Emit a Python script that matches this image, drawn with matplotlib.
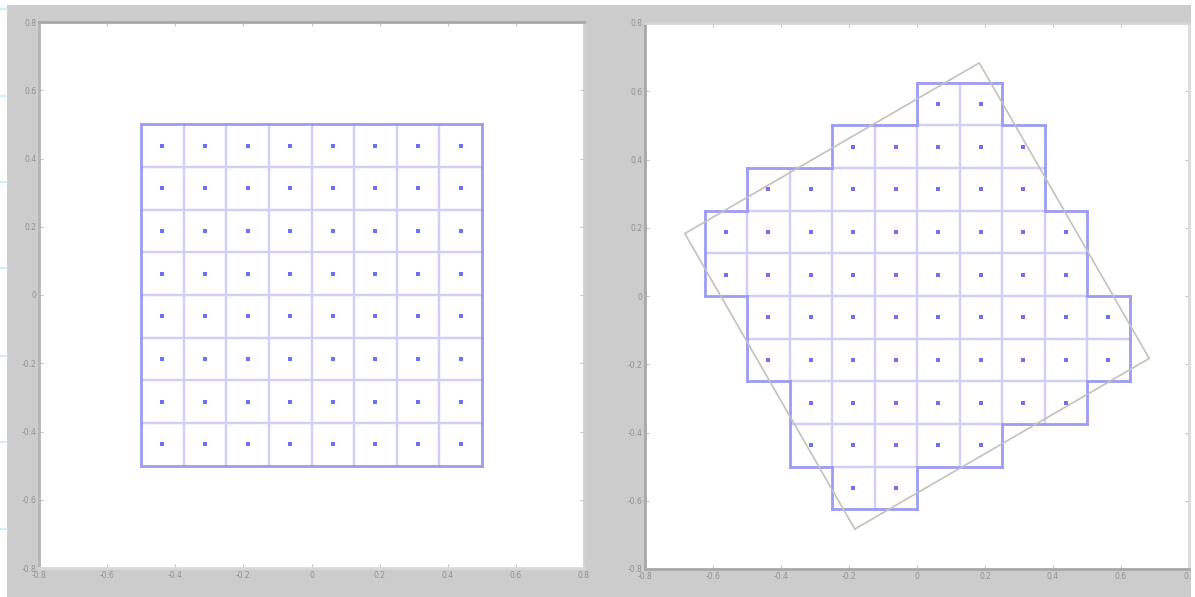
import numpy as np
import matplotlib
matplotlib.use("Agg")
import matplotlib.pyplot as plt
from matplotlib.lines import Line2D

# ---------------- data ----------------
cell_size = 0.125
# left panel: 8x8 grid of cells (row index j, first and last column index i)
left_rows = [-4, -3, -2, -1, 0, 1, 2, 3]
left_col_start = [-4, -4, -4, -4, -4, -4, -4, -4]
left_col_end = [3, 3, 3, 3, 3, 3, 3, 3]
# right panel: cells whose centre lies inside the rotated square
right_rows = [-5, -4, -3, -2, -1, 0, 1, 2, 3, 4]
right_col_start = [-2, -3, -3, -4, -4, -5, -5, -4, -2, 0]
right_col_end = [-1, 1, 3, 4, 4, 3, 3, 2, 2, 1]
# rotated outline square
square_side = 1.0
square_angle_deg = 30.0

tick_values = [-0.8, -0.6, -0.4, -0.2, 0, 0.2, 0.4, 0.6, 0.8]
tick_labels = ["-0.8", "-0.6", "-0.4", "-0.2", "0", "0.2", "0.4", "0.6", "0.8"]

# ---------------- style ----------------
FIG_BG = "#cccccc"
INNER = "#cfcffa"
BORDER = "#9c9cf6"
DOT = "#7070f0"
OUTLINE = "#c2c2ba"


def cells_from(rows, c0, c1):
    cells = set()
    for j, a, b in zip(rows, c0, c1):
        for i in range(a, b + 1):
            cells.add((i, j))
    return cells


def draw_cells(ax, cells):
    s = cell_size
    inner, border = [], []
    for (i, j) in cells:
        x0, y0 = i * s, j * s
        sides = [
            ((i, j - 1), [(x0, y0), (x0 + s, y0)]),
            ((i, j + 1), [(x0, y0 + s), (x0 + s, y0 + s)]),
            ((i - 1, j), [(x0, y0), (x0, y0 + s)]),
            ((i + 1, j), [(x0 + s, y0), (x0 + s, y0 + s)]),
        ]
        for nb, seg in sides:
            (border if nb not in cells else inner).append(seg)
    for seg in inner:
        (a, b) = seg
        ax.plot([a[0], b[0]], [a[1], b[1]], color=INNER, lw=1.6,
                solid_capstyle="butt", zorder=2)
    for seg in border:
        (a, b) = seg
        ax.plot([a[0], b[0]], [a[1], b[1]], color=BORDER, lw=2.0,
                solid_capstyle="projecting", zorder=3)
    cx = [(i + 0.5) * s for (i, j) in cells]
    cy = [(j + 0.5) * s for (i, j) in cells]
    ax.plot(cx, cy, ls="none", marker="s", ms=2.2, mew=0, color=DOT, zorder=4)


def style_axes(ax, spine_colors):
    ax.set_xlim(-0.8, 0.8)
    ax.set_ylim(-0.8, 0.8)
    ax.set_facecolor("white")
    ax.set_xticks(tick_values)
    ax.set_yticks(tick_values)
    ax.set_xticklabels(tick_labels)
    ax.set_yticklabels(tick_labels)
    ax.tick_params(direction="in", length=3, width=0.8, color="#c4c4c4",
                   labelsize=5.5, labelcolor="#929292", top=True, right=True,
                   pad=2)
    for side, col in spine_colors.items():
        ax.spines[side].set_color(col)
        ax.spines[side].set_linewidth(2.0)


fig = plt.figure(figsize=(11.95, 5.97), dpi=100, facecolor=FIG_BG)

W, H = 1195.0, 597.0
axL = fig.add_axes([39 / W, 1 - 568 / H, 545 / W, 546 / H])
axR = fig.add_axes([645 / W, 1 - 569 / H, 544 / W, 546 / H])

style_axes(axL, {"left": "#b4b4b4", "top": "#a8a8a8",
                 "bottom": "#d8d8d8", "right": "#d0d0d0"})
style_axes(axR, {"left": "#a8a8a8", "bottom": "#a8a8a8",
                 "top": "#d4d4d4", "right": "#dcdcdc"})

draw_cells(axL, cells_from(left_rows, left_col_start, left_col_end))
draw_cells(axR, cells_from(right_rows, right_col_start, right_col_end))

# rotated square outline
h = square_side / 2
th = np.deg2rad(square_angle_deg)
rot = np.array([[np.cos(th), -np.sin(th)], [np.sin(th), np.cos(th)]])
corners = np.array([[-h, -h], [h, -h], [h, h], [-h, h], [-h, -h]]) @ rot.T
axR.plot(corners[:, 0], corners[:, 1], color=OUTLINE, lw=1.2, zorder=5)

# screenshot edge strips
fig.patches.append(plt.Rectangle((0, 1 - 5 / H), 1, 5 / H, transform=fig.transFigure,
                                 facecolor="white", edgecolor="none", zorder=0))
fig.patches.append(plt.Rectangle((0, 0), 7 / W, 1, transform=fig.transFigure,
                                 facecolor="white", edgecolor="none", zorder=0))
fig.patches.append(plt.Rectangle((1 - 4 / W, 0), 4 / W, 1, transform=fig.transFigure,
                                 facecolor="white", edgecolor="none", zorder=0))
for yp in [9, 96, 182, 268, 356, 442, 529]:
    fig.add_artist(Line2D([0, 7 / W], [1 - yp / H, 1 - yp / H],
                          transform=fig.transFigure, color="#cde6f6", lw=1.2))

fig.savefig("out.png", dpi=100, facecolor=FIG_BG)
